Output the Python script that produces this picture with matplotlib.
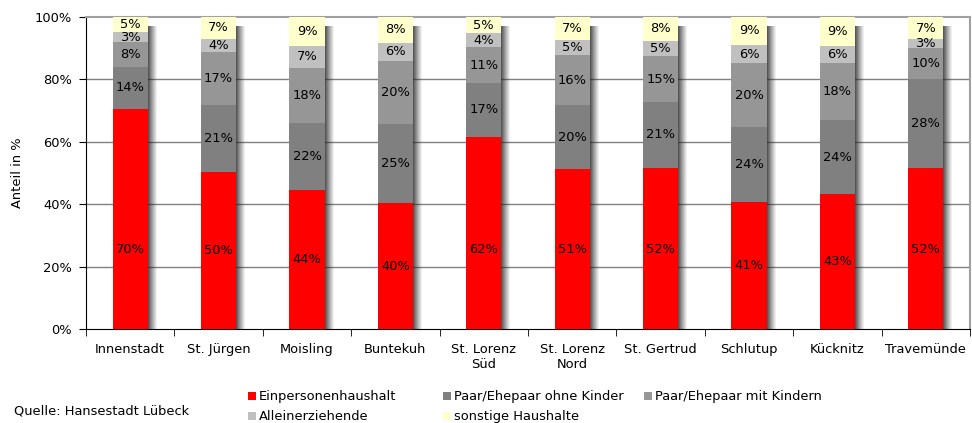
import matplotlib
matplotlib.use("Agg")
import matplotlib.pyplot as plt
from matplotlib.patches import Rectangle
import numpy as np

# Household structure per district (share in %)
districts = ["Innenstadt", "St. Jürgen", "Moisling", "Buntekuh", "St. Lorenz\nSüd",
             "St. Lorenz\nNord", "St. Gertrud", "Schlutup", "Kücknitz", "Travemünde"]
series_names = ["Einpersonenhaushalt", "Paar/Ehepaar ohne Kinder", "Paar/Ehepaar mit Kindern",
                "Alleinerziehende", "sonstige Haushalte"]
einpersonen = [70.3, 50.3, 44.4, 40.2, 61.6, 51.3, 51.6, 40.8, 43.2, 51.6]
ohne_kinder = [13.7, 21.3, 21.6, 25.3, 17.2, 20.3, 21.0, 23.8, 23.7, 28.3]
mit_kindern = [7.9, 17.0, 17.7, 20.4, 11.4, 16.0, 14.8, 20.4, 18.1, 10.0]
alleinerz = [3.1, 4.2, 7.0, 5.8, 4.4, 5.0, 4.8, 5.8, 5.7, 2.8]
sonstige = [5.0, 7.2, 9.3, 8.3, 5.4, 7.4, 7.8, 9.2, 9.3, 7.3]
y_ticks = [0, 20, 40, 60, 80, 100]

colors = ["#ff0000", "#808080", "#969696", "#c0c0c0", "#ffffcc"]

plt.rcParams["font.family"] = ["Liberation Sans Narrow", "DejaVu Sans Condensed", "DejaVu Sans"]
FS = 9.4

fig = plt.figure(figsize=(9.72, 4.23), dpi=100)
W, H = 972, 423
ax = fig.add_axes([86 / W, (H - 329) / H, (970 - 86) / W, (329 - 16.6) / H])

x = np.arange(len(districts))
bar_w = 0.4
px = 1.0 / 88.4  # one pixel in category units

data = [einpersonen, ohne_kinder, mit_kindern, alleinerz, sonstige]
totals = np.sum(data, axis=0)

# soft drop shadow to the right of each bar
for i in range(len(districts)):
    right = x[i] + bar_w / 2
    n = 11
    for k in range(n):
        a = 0.95 * (1 - k / n) ** 1.1
        ax.add_patch(Rectangle((right + k * px - 2 * px, -0.9), px, totals[i] - 2.0,
                               facecolor="#202020", alpha=a, lw=0, zorder=2))

bottom = np.zeros(len(districts))
for vals, col, name in zip(data, colors, series_names):
    vals = np.array(vals)
    ax.bar(x, vals, bar_w, bottom=bottom, color=col, label=name, zorder=3, lw=0)
    for xi, b, v in zip(x, bottom, vals):
        if col == "#ff0000":
            ypos = b + min(v / 2, 25.5)
        else:
            ypos = b + v / 2
        ax.text(xi, ypos, f"{v:.0f}%", ha="center", va="center", fontsize=FS,
                color="black", zorder=4)
    bottom += vals

ax.set_xlim(-0.5, len(districts) - 0.5)
ax.set_ylim(0, 100)
ax.set_yticks(y_ticks)
ax.set_yticklabels([f"{t}%" for t in y_ticks], fontsize=FS)
ax.set_xticks(x)
ax.set_xticklabels(districts, fontsize=FS)
ax.tick_params(axis="x", length=0, pad=10)
ax.tick_params(axis="y", length=5, direction="out", pad=5)
# category boundary ticks
ax.set_xticks(np.arange(-0.5, len(districts), 1.0), minor=True)
ax.tick_params(axis="x", which="minor", length=5, direction="out", color="black")
ax.set_ylabel("Anteil in %", fontsize=FS, labelpad=8)

for t in y_ticks[1:-1]:
    ax.axhline(t, color="#808080", lw=1.0, zorder=1)
ax.spines["top"].set_color("#a0a0a0")
ax.spines["right"].set_color("#a0a0a0")
ax.spines["top"].set_linewidth(1.5)
ax.spines["right"].set_linewidth(1.5)
ax.spines["left"].set_color("black")
ax.spines["bottom"].set_color("black")

# legend below the plot
legend_items = [(0, 248, 396), (1, 443, 396), (2, 644, 396), (3, 248, 416), (4, 443, 416)]
for idx, lx, ly in legend_items:
    fig.add_artist(Rectangle((lx / W, (H - ly - 4) / H), 8 / W, 8 / H,
                             transform=fig.transFigure, facecolor=colors[idx], lw=0))
    fig.text((lx + 11) / W, (H - ly) / H, series_names[idx], fontsize=FS,
             ha="left", va="center")

fig.text(14 / W, (H - 411) / H, "Quelle: Hansestadt Lübeck", fontsize=FS,
         ha="left", va="center")

fig.savefig("out.png", dpi=100)
